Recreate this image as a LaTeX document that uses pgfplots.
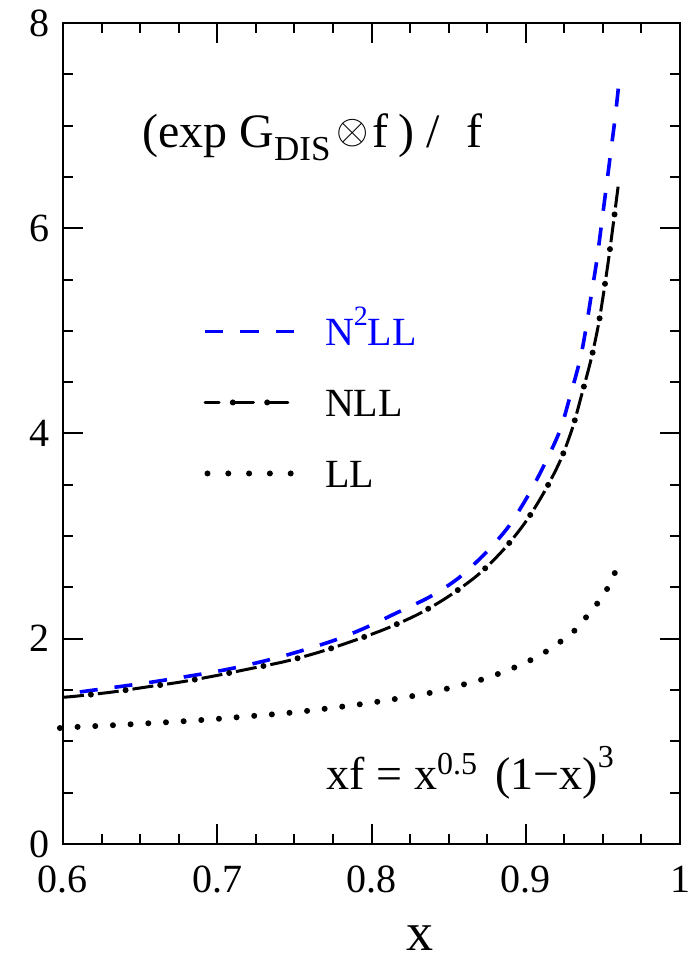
\documentclass[border=0pt]{standalone}
\usepackage{pgfplots}
\pgfplotsset{compat=1.18}
\usepackage{fontspec}
\setmainfont{Liberation Serif}

% N2LL, listed from the upper end down so that the dash pattern starts at the top
\pgfplotstableread{
x y
0.9600 7.36
0.9578 7.06
0.9550 6.73
0.9522 6.40
0.9492 6.05
0.9462 5.70
0.9427 5.37
0.9390 5.02
0.9352 4.72
0.9287 4.36
0.9222 4.03
0.9125 3.71
0.9017 3.40
0.8887 3.09
0.8736 2.83
0.8563 2.59
0.838 2.41
0.816 2.25
0.795 2.10
0.773 1.97
0.740 1.82
0.706 1.70
0.663 1.59
0.630 1.52
0.600 1.46
}\nnll

\pgfplotstableread{
x y
0.600 1.43
0.6082 1.44
0.6316 1.48
0.6543 1.53
0.677 1.58
0.699 1.64
0.7219 1.71
0.7444 1.78
0.7662 1.87
0.7882 1.98
0.8098 2.10
0.8304 2.24
0.8497 2.41
0.8688 2.62
0.8851 2.86
0.8995 3.13
0.9116 3.42
0.9222 3.73
0.9302 4.05
0.9363 4.38
0.9423 4.72
0.9470 5.05
0.9507 5.39
0.9540 5.73
0.9570 6.07
0.9600 6.42
}\nll

\pgfplotstableread{
x y
0.598 1.13
0.608 1.14
0.632 1.157
0.655 1.176
0.678 1.196
0.7007 1.22
0.7234 1.248
0.746 1.277
0.7688 1.316
0.7919 1.36
0.8141 1.41
0.8371 1.47
0.848 1.51
0.8705 1.598
0.8813 1.653
0.8919 1.715
0.9024 1.786
0.9126 1.870
0.9218 1.964
0.9310 2.07
0.9386 2.20
0.9457 2.33
0.9522 2.47
0.9580 2.65
}\ll

\begin{document}
\begin{tikzpicture}
\begin{axis}[
  scale only axis, width=308.5pt, height=410.5pt,
  xmin=0.6, xmax=1, ymin=0, ymax=8,
  xtick={0.6,0.7,0.8,0.9,1}, ytick={0,2,4,6,8},
  minor x tick num=3, minor y tick num=3,
  tick align=inside, major tick length=10pt, minor tick length=5pt,
  every tick/.style={black, line width=1pt},
  axis line style={line width=1pt},
  ticklabel style={font=\fontsize{20}{24}\selectfont},
  /pgf/number format/assume math mode=true,
  xticklabel style={yshift=-7.3pt},
  yticklabel style={xshift=-3.3pt},
  xlabel={x},
  xlabel style={font=\fontsize{27}{30}\selectfont, at={(axis description cs:0.5786,0)}, anchor=base, yshift=-53pt},
  clip=false,
  legend style={draw=none, fill=none, at={(axis description cs:0.2248,0.6467)}, anchor=north west,
    inner sep=0pt, row sep=19.5pt, column sep=14.5pt, font=\fontsize{20}{24}\selectfont,
    nodes={inner sep=0pt, text height=14pt, text depth=0pt}},
  legend cell align=left,
]
\addplot[blue, line width=1.8pt, dash pattern=on 9pt off 8.5pt, smooth,
  legend image code/.code={\path[draw=none] (0pt,-5pt) -- (0pt,9pt);
    \draw[blue, line width=1.8pt, dash pattern=on 9.2pt off 8.5pt] (0pt,0pt) -- (44.6pt,0pt);}]
  table[x=x,y=y] {\nnll};
\addlegendentry{\textcolor{blue}{N\raisebox{10pt}{\fontsize{14}{14}\selectfont 2}LL}}

\addplot[black, line width=1.5pt, dash pattern=on 10.5pt off 7pt, smooth, forget plot]
  table[x=x,y=y] {\nll};
\addplot[black, line width=3pt, line cap=round, dash pattern=on 0pt off 17.5pt, dash phase=3.5pt, smooth,
  legend image code/.code={\path[draw=none] (0pt,-5pt) -- (0pt,9pt);
    \draw[black, line width=1.5pt, dash pattern=on 10.5pt off 6.7pt] (0pt,0pt) -- (44pt,0pt);
    \draw[black, line width=3pt, line cap=round, dash pattern=on 0pt off 17.2pt, dash phase=3.35pt] (0pt,0pt) -- (44pt,0pt);}]
  table[x=x,y=y] {\nll};
\addlegendentry{NLL}

\addplot[black, line width=3pt, line cap=round, dash pattern=on 0pt off 8.85pt, smooth,
  legend image code/.code={\path[draw=none] (0pt,-5pt) -- (0pt,9pt);
    \draw[black, line width=3pt, line cap=round, dash pattern=on 0pt off 10.4pt] (1.2pt,0pt) -- (43.2pt,0pt);}]
  table[x=x,y=y] {\ll};
\addlegendentry{LL}

\node[anchor=base west, inner sep=0pt, font=\fontsize{24}{27}\selectfont] at (axis description cs:0.1276,0.8484)
  {(exp G\raisebox{-6.5pt}{\fontsize{17.5}{18}\selectfont DIS}\hspace{3pt}\raisebox{2pt}{\fontsize{22}{22}\selectfont$\otimes$}\hspace{2pt}f\hspace{5pt})\hspace{6pt}/\hspace{13pt}f};
\node[anchor=base west, inner sep=0pt, font=\fontsize{23}{26}\selectfont] at (axis description cs:0.4271,0.0658)
  {xf = x\raisebox{7.5pt}{\fontsize{16}{16}\selectfont 0.5}\hspace{9pt}(1−x)\raisebox{11pt}{\fontsize{16}{16}\selectfont 3}};
\end{axis}
\pgfresetboundingbox
\path[use as bounding box] (-31.5pt,-58.5pt) rectangle (312.5pt,422pt);
\end{tikzpicture}
\end{document}
